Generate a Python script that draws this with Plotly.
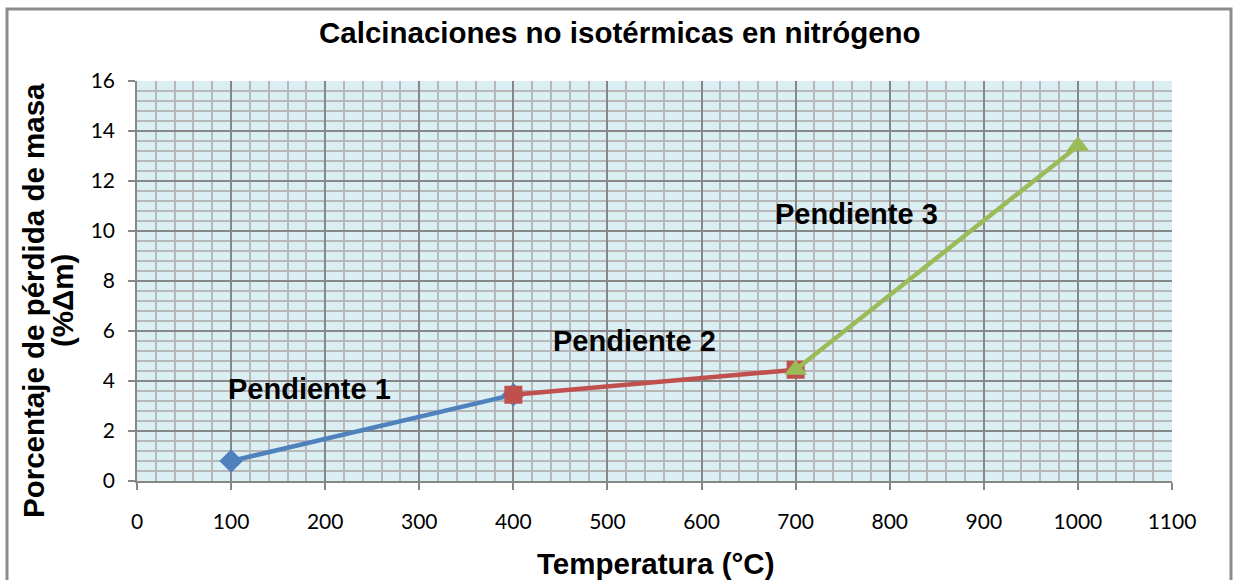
import plotly.graph_objects as go

# Temperature (°C) and mass-loss percentage for each slope segment
temp_p1 = [100, 400]
loss_p1 = [0.8, 3.45]
temp_p2 = [400, 700]
loss_p2 = [3.45, 4.45]
temp_p3 = [700, 1000]
loss_p3 = [4.45, 13.4]

x_ticks = [0, 100, 200, 300, 400, 500, 600, 700, 800, 900, 1000, 1100]
y_ticks = [0, 2, 4, 6, 8, 10, 12, 14, 16]

BLUE = "#4F81BD"
RED = "#C0504D"
GREEN = "#9BBB59"
MAJOR = "#878787"
MINOR = "#b7b7b7"
BOLD = "Liberation Sans, Arial, sans-serif"
TICK = "Lato, Carlito, Calibri, sans-serif"

fig = go.Figure()
fig.add_trace(go.Scatter(x=temp_p1, y=loss_p1, mode="lines+markers",
                         line=dict(color=BLUE, width=4.5),
                         marker=dict(symbol="diamond", size=18, color=BLUE)))
fig.add_trace(go.Scatter(x=temp_p2, y=loss_p2, mode="lines+markers",
                         line=dict(color=RED, width=4.5),
                         marker=dict(symbol="square", size=18, color=RED)))
fig.add_trace(go.Scatter(x=temp_p3, y=loss_p3, mode="lines+markers",
                         line=dict(color=GREEN, width=4.5),
                         marker=dict(symbol="triangle-up", size=20, color=GREEN)))

ann_font = dict(family=BOLD, size=29, color="black")
title_font = dict(family=BOLD, size=29.5, color="black")
fig.add_annotation(x=183, y=3.68, text="<b>Pendiente 1</b>", showarrow=False, font=ann_font)
fig.add_annotation(x=529, y=5.6, text="<b>Pendiente 2</b>", showarrow=False, font=ann_font)
fig.add_annotation(x=765, y=10.68, text="<b>Pendiente 3</b>", showarrow=False, font=ann_font)

# Chart title and axis titles
fig.add_annotation(xref="paper", yref="paper", x=0.4667, y=1.12,
                   text="<b>Calcinaciones no isotérmicas en nitrógeno</b>",
                   showarrow=False, font=title_font, xanchor="center", yanchor="middle")
fig.add_annotation(xref="paper", yref="paper", x=0.5005, y=-0.205,
                   text="<b>Temperatura (°C)</b>",
                   showarrow=False, font=title_font, xanchor="center", yanchor="middle")
fig.add_annotation(xref="paper", yref="paper", x=(33 - 137) / 1035, y=(481 - 301) / 400,
                   text="<b>Porcentaje de pérdida de masa</b>", textangle=-90,
                   showarrow=False, font=title_font, xanchor="center", yanchor="middle")
fig.add_annotation(xref="paper", yref="paper", x=(62 - 137) / 1035, y=(481 - 301) / 400,
                   text="<b>(%Δm)</b>", textangle=-90,
                   showarrow=False, font=title_font, xanchor="center", yanchor="middle")

# Outer chart frame
fig.add_shape(type="rect", xref="paper", yref="paper",
              x0=(7 - 137) / 1035, x1=(1231 - 137) / 1035,
              y0=(481 - 600) / 400, y1=(481 - 9) / 400,
              line=dict(color="#8c8c8c", width=3), layer="below")

fig.update_xaxes(range=[0, 1100], tickvals=x_ticks, ticktext=[str(v) for v in x_ticks],
                 showgrid=True, gridcolor=MAJOR, gridwidth=1.5,
                 minor=dict(dtick=20, showgrid=True, gridcolor=MINOR, gridwidth=1.5),
                 showline=True, linecolor=MAJOR, linewidth=1.5,
                 ticks="outside", ticklen=7, tickcolor=MAJOR, tickwidth=1.5,
                 ticklabelstandoff=14, zeroline=False,
                 tickfont=dict(family=TICK, size=21, color="black"))
fig.update_yaxes(range=[0, 16], tickvals=y_ticks, ticktext=[str(v) for v in y_ticks],
                 showgrid=True, gridcolor=MAJOR, gridwidth=1.5,
                 minor=dict(dtick=0.4, showgrid=True, gridcolor=MINOR, gridwidth=1.5),
                 showline=True, linecolor=MAJOR, linewidth=1.5,
                 ticks="outside", ticklen=7, tickcolor=MAJOR, tickwidth=1.5,
                 ticklabelstandoff=9, zeroline=False,
                 tickfont=dict(family=TICK, size=21, color="black"))

fig.update_layout(width=1235, height=580, showlegend=False,
                  margin=dict(l=137, r=63, t=81, b=99),
                  paper_bgcolor="white", plot_bgcolor="#dbeef3")

fig.write_html("out.html")
